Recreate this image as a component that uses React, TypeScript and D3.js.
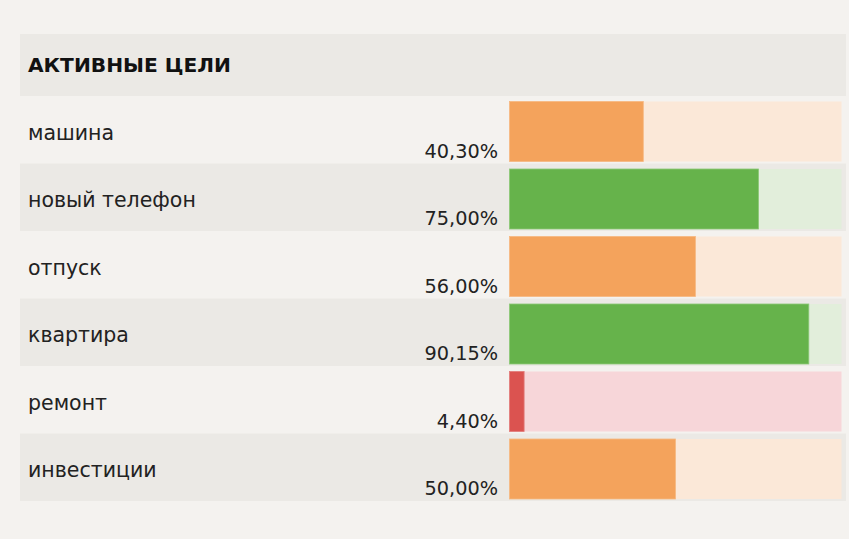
import * as d3 from "d3";
import {useEffect, useRef} from "react";

const title = "АКТИВНЫЕ ЦЕЛИ";
const goals = ["машина", "новый телефон", "отпуск", "квартира", "ремонт", "инвестиции"];
const progress = [40.3, 75.0, 56.0, 90.15, 4.4, 50.0];

const width = 849;
const height = 539;

// fill / background pairs by progress level
const palette = (v: number) => {
    if (v < 10) return {fill: "#db5350", stroke: "#e27d7b", bg: "#f7d6d9"};
    if (v < 60) return {fill: "#f4a35c", stroke: "#f6b882", bg: "#fbe8d8"};
    return {fill: "#66b34b", stroke: "#8cc777", bg: "#e2eedb"};
};

export default function App() {
    const svgRef = useRef(null);

    useEffect(() => {
        if (!svgRef.current) return;
        const svg = d3.select(svgRef.current);
        svg.selectAll("*").remove();

        const left = 20, right = 846;
        const headerTop = 34, headerBottom = 96;

        svg.append("rect")
            .attr("width", width).attr("height", height)
            .attr("fill", "#f4f2ef");

        svg.append("rect")
            .attr("x", left).attr("y", headerTop)
            .attr("width", right - left).attr("height", headerBottom - headerTop)
            .attr("fill", "#ebe9e5");

        svg.append("text")
            .attr("x", 28).attr("y", 72)
            .attr("font-family", "'DejaVu Sans', sans-serif")
            .attr("font-weight", "bold")
            .attr("font-size", 20.2)
            .attr("fill", "#111")
            .text(title);

        const y = d3.scaleBand<number>()
            .domain(d3.range(goals.length))
            .range([headerBottom, 501])
            .paddingInner(0);

        const x = d3.scaleLinear()
            .domain([0, 100])
            .range([509.5, 841.5]);

        const rows = svg.selectAll("g.row")
            .data(goals)
            .join("g")
            .attr("class", "row")
            .attr("transform", (_, i) => `translate(0,${y(i)})`);

        rows.append("rect")
            .attr("x", left).attr("width", right - left)
            .attr("height", y.bandwidth())
            .attr("fill", (_, i) => i % 2 === 1 ? "#ebe9e5" : "#f4f2ef");

        rows.append("text")
            .attr("x", 28).attr("y", 43.5)
            .attr("font-family", "'DejaVu Sans', sans-serif")
            .attr("font-size", 20.5)
            .attr("fill", "#222")
            .text(d => d);

        rows.append("text")
            .attr("x", 498).attr("y", y.bandwidth() - 6)
            .attr("text-anchor", "end")
            .attr("font-family", "'DejaVu Sans', sans-serif")
            .attr("font-size", 19.3)
            .attr("fill", "#222")
            .text((_, i) => progress[i].toFixed(2).replace(".", ",") + "%");

        const barTop = 5.5, barH = 60;

        rows.append("rect")
            .attr("x", x(0)).attr("y", barTop)
            .attr("width", x(100) - x(0)).attr("height", barH)
            .attr("fill", (_, i) => palette(progress[i]).bg);

        rows.append("rect")
            .attr("x", x(0)).attr("y", barTop)
            .attr("width", (_, i) => x(progress[i]) - x(0)).attr("height", barH)
            .attr("fill", (_, i) => palette(progress[i]).fill)
            .attr("stroke", (_, i) => palette(progress[i]).stroke)
            .attr("stroke-width", 0.8);
    }, []);

    return (
        <svg ref={svgRef} width={width} height={height}
             style={{position: "absolute", left: 0, top: 0}}></svg>
    );
}
